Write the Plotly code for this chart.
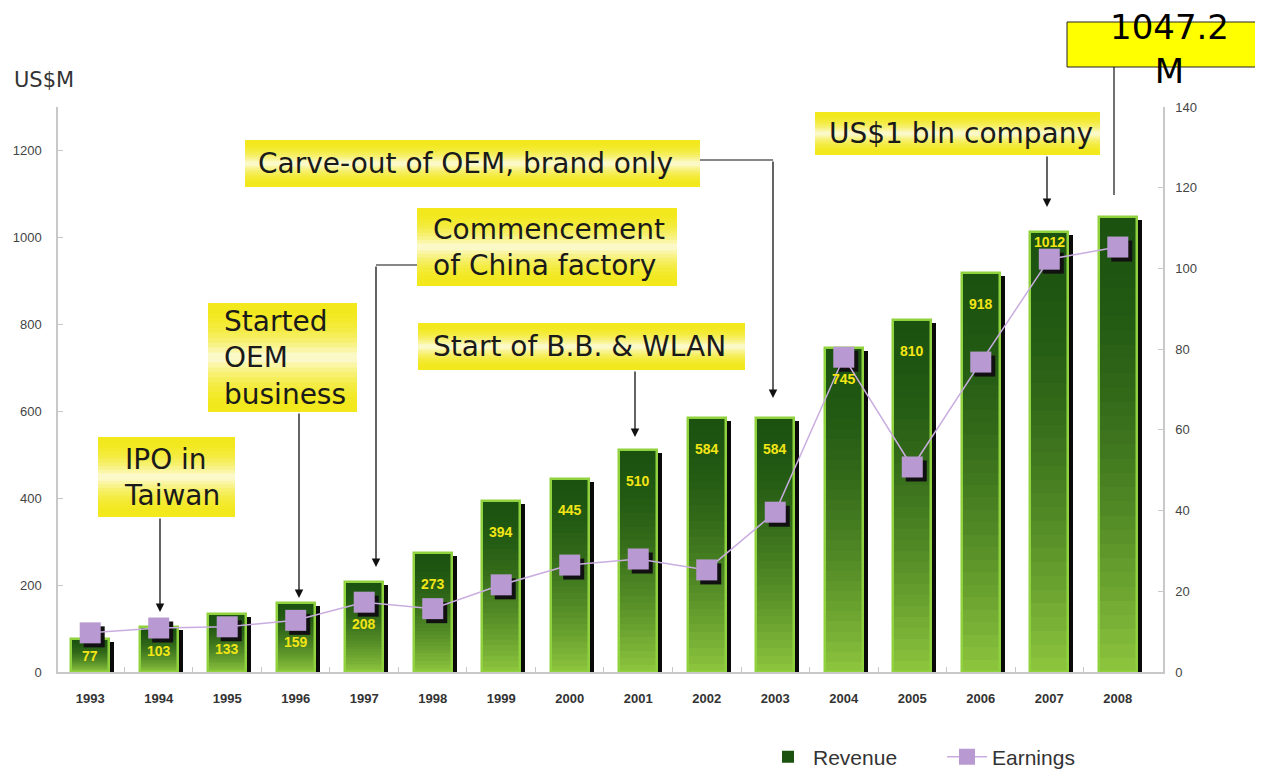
import plotly.graph_objects as go

# ---------------- data ----------------
years = [str(y) for y in range(1993, 2009)]
revenue = [77, 103, 133, 159, 208, 273, 394, 445, 510, 584, 584, 745, 810, 918, 1012, 1047.2]
revenue_labels = ["77", "103", "133", "159", "208", "273", "394", "445", "510", "584",
                  "584", "745", "810", "918", "1012", ""]
earnings = [9.7, 10.9, 11.2, 12.8, 17.3, 15.7, 21.6, 26.5, 28.0, 25.3,
            39.6, 78.0, 50.8, 76.8, 102.3, 105.3]
left_ticks = [0, 200, 400, 600, 800, 1000, 1200]
right_ticks = [0, 20, 40, 60, 80, 100, 120, 140]

callout_texts = ["IPO in<br>Taiwan", "Started<br>OEM<br>business",
                 "Commencement<br>of China factory", "Carve-out of OEM, brand only",
                 "Start of B.B. &amp; WLAN", "US$1 bln company"]
big_callout = "1047.2<br>M"

# ---------------- geometry helpers (layout only) ----------------
W, H = 1263, 772
PAGE_OFF = 8  # page body margin of the browser
L, R, T, B = 58, 1163, 107, 672  # plot area in screen pixels
LEFT_MAX, RIGHT_MAX = 1300, 140


def px(x):
    return (x - L) / (R - L)


def py(y):
    return (B - y) / (B - T)


idx = list(range(len(years)))
bar_w = 0.56
units_per_px_left = LEFT_MAX / (B - T)
units_per_px_right = RIGHT_MAX / (B - T)
cat_per_px = (15.66 + 0.47) / (R - L)

fig = go.Figure()

# bar shadows
fig.add_trace(go.Bar(
    x=idx, y=[v - 3 * units_per_px_left for v in revenue], width=bar_w,
    offset=-bar_w / 2 + 5 * cat_per_px, marker=dict(color="#0a0a0a", line=dict(width=0)),
    showlegend=False, hoverinfo="skip"))

# gradient segments for the bars
dark = (27, 82, 16)
light = (142, 198, 62)
N = 32
for k in range(N):
    t_top = 1 - (k + 0.5) / N  # 0 at bar top, 1 at bottom
    f = t_top ** 1.7
    col = "rgb(%d,%d,%d)" % tuple(round(dark[i] + (light[i] - dark[i]) * f) for i in range(3))
    fig.add_trace(go.Bar(
        x=idx, y=[v / N * 1.02 for v in revenue], base=[v * k / N for v in revenue],
        width=bar_w, marker=dict(color=col, line=dict(width=0)),
        name="Revenue", showlegend=(k == N - 1), hoverinfo="skip"))

# bar outline
fig.add_trace(go.Bar(
    x=idx, y=revenue, width=bar_w, marker=dict(color="rgba(0,0,0,0)",
                                                line=dict(color="#8fd23e", width=2.5)),
    showlegend=False, hoverinfo="skip"))

# earnings marker shadows
fig.add_trace(go.Scatter(
    x=[i + 4 * cat_per_px for i in idx], y=[e - 4 * units_per_px_right for e in earnings],
    yaxis="y2", mode="markers", marker=dict(symbol="square", size=21, color="#111111"),
    showlegend=False, hoverinfo="skip"))

# earnings
fig.add_trace(go.Scatter(
    x=idx, y=earnings, yaxis="y2", mode="lines+markers", name="Earnings",
    line=dict(color="#c9ade0", width=1.5),
    marker=dict(symbol="square", size=21, color="#b899d1", line=dict(width=0))))

annotations = []
shapes = []

# value labels inside bars (moved clear of the earnings markers)
for i, (v, e, lab) in enumerate(zip(revenue, earnings, revenue_labels)):
    if not lab:
        continue
    hpx = v / units_per_px_left
    marker_off = hpx - e / units_per_px_right  # marker centre, px below bar top
    off = min(31, hpx * 0.5 + 1)
    if abs(off - marker_off) < 18:
        off = marker_off + 22 if hpx < 150 else 10
    annotations.append(dict(
        x=i, y=v, xref="x", yref="y", text=lab, showarrow=False,
        yshift=-off, yanchor="middle",
        font=dict(family="Liberation Sans", size=14, color="#f2e516", weight="bold")))

# yellow gradient boxes
boxes = [(98, 235, 437, 517, 122), (208, 357, 303, 412, 222), (417, 677, 208, 286, 431),
         (245, 700, 140, 187, 256), (418, 745, 323, 370, 431), (815, 1100, 112, 155, 827)]
yellow = (242, 232, 28)
white = (253, 252, 228)
S = 22
for (x0, x1, y0, y1, tx), txt in zip(boxes, callout_texts):
    hgt = (y1 - y0) / S
    for k in range(S):
        tt = (k + 0.5) / S
        f = (1 - abs(2 * tt - 1)) ** 2.2 * 0.95
        col = "rgb(%d,%d,%d)" % tuple(round(yellow[i] + (white[i] - yellow[i]) * f) for i in range(3))
        ya = y0 + k * hgt
        yb = min(y1, y0 + (k + 1) * hgt + 0.8)
        shapes.append(dict(type="rect", xref="paper", yref="paper",
                           x0=px(x0), x1=px(x1), y0=py(yb), y1=py(ya),
                           fillcolor=col, line=dict(width=0), layer="above"))
    annotations.append(dict(
        x=px(tx), y=py((y0 + y1) / 2), xref="paper", yref="paper", text=txt,
        showarrow=False, xanchor="left", yanchor="middle", align="left",
        font=dict(family="DejaVu Sans", size=28, color="#1a1a1a")))

# big yellow callout
shapes.append(dict(type="rect", xref="paper", yref="paper", x0=px(1067), x1=px(1300),
                   y0=py(67), y1=py(22), fillcolor="#ffff00",
                   line=dict(color="#222222", width=1), layer="above"))
annotations.append(dict(
    x=px(1169), y=py(49), xref="paper", yref="paper", text=big_callout, showarrow=False,
    xanchor="center", yanchor="middle", align="center",
    font=dict(family="DejaVu Sans", size=34, color="#000000")))
shapes.append(dict(type="line", xref="paper", yref="paper", x0=px(1114), x1=px(1114),
                   y0=py(67), y1=py(195), line=dict(color="#111111", width=1.2)))

# elbow connector lines
shapes.append(dict(type="line", xref="paper", yref="paper", x0=px(417), x1=px(376),
                   y0=py(265), y1=py(265), line=dict(color="#111111", width=1.2)))
shapes.append(dict(type="line", xref="paper", yref="paper", x0=px(700), x1=px(773),
                   y0=py(160), y1=py(160), line=dict(color="#111111", width=1.2)))

# vertical arrows (x, tail_y, tip_y)
arrows = [(160, 517, 612), (299, 412, 598), (376, 265, 567), (773, 160, 398),
          (635, 370, 437), (1047, 155, 207)]
for ax_, tail, tip in arrows:
    annotations.append(dict(
        x=px(ax_), y=py(tip), xref="paper", yref="paper", text="", showarrow=True,
        ax=0, ay=-(tip - tail), axref="pixel", ayref="pixel",
        arrowhead=2, arrowsize=1.3, arrowwidth=1.3, arrowcolor="#111111", standoff=0))

# axis unit label
annotations.append(dict(
    x=px(12), y=py(80), xref="paper", yref="paper", text="US$M", showarrow=False,
    xanchor="left", yanchor="middle",
    font=dict(family="DejaVu Sans", size=21, color="#333333")))

axis_common = dict(showgrid=False, zeroline=False, showline=True, linecolor="#c8c8c8",
                   linewidth=1.5, ticks="inside", ticklen=5, tickcolor="#c8c8c8")

fig.update_layout(
    width=W, height=H,
    margin=dict(l=L - PAGE_OFF, r=W - (R - PAGE_OFF), t=T - PAGE_OFF, b=H - (B - PAGE_OFF),
                autoexpand=False),
    paper_bgcolor="white", plot_bgcolor="white",
    barmode="overlay", bargap=0,
    xaxis=dict(range=[-0.47, 15.66], tickmode="array", tickvals=idx, ticktext=years,
               showgrid=False, zeroline=False, showline=True, linecolor="#c8c8c8",
               linewidth=1.5, ticks="",
               minor=dict(tickmode="array", tickvals=[i + 0.5 for i in idx[:-1]] + [-0.5],
                          ticks="inside", ticklen=5, tickcolor="#c8c8c8"),
               ticklabelstandoff=14,
               tickfont=dict(family="Liberation Sans", size=13, color="#333333", weight="bold")),
    yaxis=dict(range=[0, LEFT_MAX], tickmode="array", tickvals=left_ticks,
               ticklabelstandoff=12,
               tickfont=dict(family="Liberation Sans", size=13, color="#444444"), **axis_common),
    yaxis2=dict(range=[0, RIGHT_MAX], tickmode="array", tickvals=right_ticks, overlaying="y",
                side="right", ticklabelstandoff=8,
                tickfont=dict(family="Liberation Sans", size=13, color="#444444"), **axis_common),
    legend=dict(orientation="h", x=px(763), y=py(757), xanchor="left", yanchor="middle",
                font=dict(family="Liberation Sans", size=21, color="#333333"),
                bgcolor="rgba(0,0,0,0)", itemwidth=40, entrywidth=124,
                entrywidthmode="pixels", traceorder="normal"),
    annotations=annotations,
    shapes=shapes,
    showlegend=True,
)

fig.write_html("out.html")
